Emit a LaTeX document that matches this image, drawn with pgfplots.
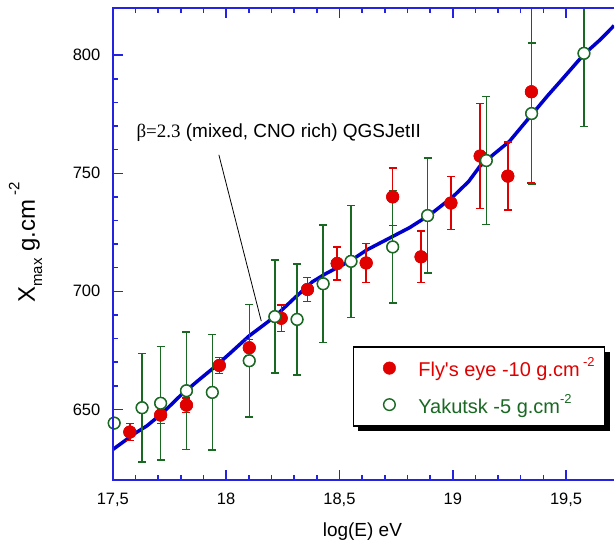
\documentclass[border=0pt]{standalone}
\usepackage{fontspec}
\setmainfont{Liberation Sans}
\newfontfamily\seriffont{Liberation Serif}
\usepackage{pgfplots}
\usepackage{pgfplotstable}
\pgfplotsset{compat=1.18}
\usetikzlibrary{shadows}
\definecolor{axblue}{RGB}{35,35,225}
\definecolor{curveblue}{RGB}{0,0,205}
\definecolor{myred}{RGB}{225,0,0}
\definecolor{mygreen}{RGB}{25,105,35}

\pgfplotstableread{
x y e
17.575 640.4 3.6
17.711 647.6 3.6
17.825 651.8 3.0
17.970 668.6 3.5
18.102 676.1 3.5
18.243 688.6 5.6
18.359 700.8 5.0
18.490 711.8 7.0
18.618 712.0 8.2
18.735 740.0 12.2
18.860 714.6 10.9
18.992 737.4 11.3
19.121 757.3 22.3
19.243 748.8 14.4
19.347 784.5 38.6
}\flyseye

\pgfplotstableread{
x y e
17.506 644.2 0
17.629 650.7 22.9
17.711 652.6 24.0
17.825 657.9 24.9
17.939 657.2 24.4
18.102 670.6 23.8
18.215 689.3 23.9
18.313 688.1 23.5
18.428 703.2 24.9
18.551 712.7 23.7
18.735 718.8 23.8
18.889 732.1 24.4
19.148 755.4 27.2
19.348 775.3 29.8
19.579 800.8 31.1
}\yakutsk

\begin{document}
\begin{tikzpicture}
\begin{axis}[
  at={(0pt,0pt)}, anchor=south west,
  scale only axis, width=502pt, height=473pt,
  xmin=17.5, xmax=19.7115, ymin=620, ymax=820,
  axis line style={draw=none},
  tick style={axblue, line width=1.5pt},
  major tick length=10pt, minor tick length=5pt,
  xtick pos=both, ytick pos=left,
  xtick={17.5,18,18.5,19,19.5},
  xticklabels={{17,5},18,{18,5},19,{19,5}},
  ytick={650,700,750,800},
  minor x tick num=4, minor y tick num=4,
  tick label style={font=\fontsize{16.5}{19}\selectfont, black},
  xticklabel style={yshift=-9pt},
  yticklabel style={xshift=-9pt},
  /pgf/number format/assume math mode=true,
  clip mode=individual,
  xlabel={log(E) eV},
  xlabel style={font=\fontsize{19}{23}\selectfont, at={(axis description cs:0.498,-0.109)}, anchor=center},
  legend style={at={(axis description cs:0.4787,0.284)}, anchor=north west,
    draw=black, line width=1.5pt, fill=white,
    drop shadow={shadow xshift=5pt, shadow yshift=-5pt, fill=black, opacity=1},
    inner xsep=10pt, inner ysep=11pt, row sep=16pt,
    nodes={inner sep=0pt, anchor=west},
    font=\fontsize{20}{24}\selectfont},
  legend cell align=left,
  legend image code/.code={\pgfpathrectangle{\pgfpoint{0pt}{-8pt}}{\pgfpoint{55pt}{16pt}}\pgfusepath{}\draw[#1] plot coordinates {(26pt,0pt)};},
]
\addplot[curveblue, line width=3.5pt, no marks, forget plot] coordinates {
(17.50,633) (17.55,636.5) (17.60,640) (17.65,643) (17.72,648.5) (17.80,656)
(17.88,662.5) (17.95,668) (18.02,674) (18.10,681) (18.215,689.3) (18.30,697)
(18.38,704) (18.44,707.5) (18.50,710.5) (18.55,713) (18.62,717.5) (18.70,721.5)
(18.81,727) (18.90,732.5) (19.00,740) (19.07,746.5) (19.12,753) (19.18,758)
(19.25,763.5) (19.35,775) (19.42,783) (19.48,789.5) (19.58,800.5) (19.65,806.5) (19.7115,812.5)
};
\addplot[myred, only marks, mark=*, mark size=6.3pt, mark options={fill=myred, draw=myred, line width=0.4pt}, forget plot,
  error bars/.cd, y dir=both, y explicit,
  error bar style={line width=1.4pt, myred},
  error mark options={rotate=90, line width=1.4pt, mark size=4pt, myred}]
  table[x=x, y=y, y error=e] {\flyseye};
\addplot[mygreen, only marks, mark=*, mark size=5.8pt, mark options={fill=white, draw=mygreen, line width=1.4pt}, forget plot,
  error bars/.cd, y dir=both, y explicit,
  error bar style={line width=1.4pt, mygreen},
  error mark options={rotate=90, line width=1.4pt, mark size=4pt, mygreen}]
  table[x=x, y=y, y error=e] {\yakutsk};
\addplot[myred, only marks, mark=*, mark size=6.3pt, mark options={fill=myred, draw=myred, line width=0.4pt}]
  table[x=x, y=y] {\flyseye};
\addlegendentry{\textcolor{myred}{Fly\textquotesingle s eye -10 g.cm\,\raisebox{0.5em}{\fontsize{13}{13}\selectfont -2}}}
\addplot[mygreen, only marks, mark=*, mark size=5.8pt, mark options={fill=white, draw=mygreen, line width=1.4pt}]
  table[x=x, y=y] {\yakutsk};
\addlegendentry{\textcolor{mygreen}{Yakutsk -5 g.cm\raisebox{0.5em}{\fontsize{13}{13}\selectfont -2}}}
\draw[axblue, line width=2pt] (axis description cs:1,1) -- (axis description cs:0,1) -- (axis description cs:0,0) -- (axis description cs:1,0);
\draw[black, line width=0.8pt] (axis cs:17.968,757.8) -- (axis cs:18.155,687.4);
\node[anchor=west, font=\fontsize{19}{23}\selectfont, inner sep=0pt] at (axis cs:17.604,767) {{\seriffont β=2.3} (mixed, CNO rich) QGSJetII};
\node[rotate=90, anchor=base, inner sep=0pt, font=\fontsize{24}{28}\selectfont] at (axis description cs:-0.1554,0.503) {X\raisebox{-0.3em}{\fontsize{15}{15}\selectfont max} g.cm\,\raisebox{0.65em}{\fontsize{15}{15}\selectfont -2}};
\end{axis}
\path (-113pt,-59pt) rectangle (502pt,481pt);
\end{tikzpicture}
\end{document}
